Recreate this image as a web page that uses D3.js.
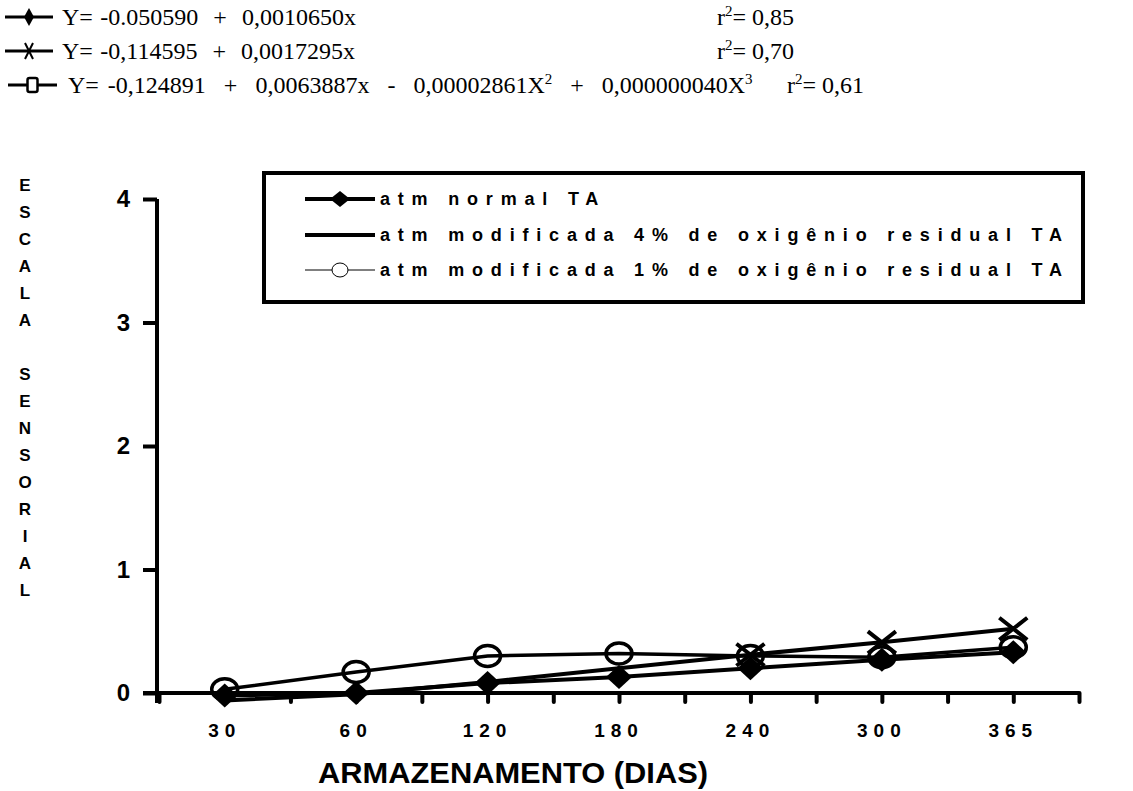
<!DOCTYPE html>
<html>
<head>
<meta charset="utf-8">
<script src="https://cdn.jsdelivr.net/npm/d3@7"></script>
<style>
  body { margin: 0; background: #fff; }
  svg { display: block; }
  text { white-space: pre; }
</style>
</head>
<body>
<div id="chart"></div>
<script>
// data
var days = ["30", "60", "120", "180", "240", "300", "365"];
var normalTA = [-0.02, 0.00, 0.08, 0.13, 0.20, 0.27, 0.33];
var mod4TA = [-0.06, -0.01, 0.09, 0.20, 0.31, 0.41, 0.52];
var mod1TA = [0.03, 0.17, 0.30, 0.32, 0.30, 0.29, 0.37];
var mod4Marked = ["240", "300", "365"];
var yTicks = [0, 1, 2, 3, 4];
var legendLabels = ["atm normal TA", "atm modificada 4% de oxigênio residual TA", "atm modificada 1% de oxigênio residual TA"];
var equations = ["Y= -0.050590  +  0,0010650x", "Y= -0,114595  +  0,0017295x", "Y= -0,124891  +  0,0063887x  -  0,00002861X"];
var r2 = ["0,85", "0,70", "0,61"];
var yTitle = "ESCALA SENSORIAL";
var xTitle = "ARMAZENAMENTO (DIAS)";

var sans = "Arial, Liberation Sans, sans-serif";
var svg = d3.select("#chart").append("svg").attr("width", 1133).attr("height", 791);

var x = d3.scaleLinear().domain([-0.5, days.length - 0.5]).range([159, 1079]);
var y = d3.scaleLinear().domain([0, 4]).range([693, 199]);

// ---- equations at the top
var eq = svg.append("g").attr("font-family", "Liberation Serif, Times New Roman, serif").attr("font-size", 24)
    .attr("fill", "#000");
var rowY = [17, 51, 85];
var r2X = [717, 717, 787];

function eqIcon(i, g) {
    var cy = rowY[i];
    var x0 = i == 2 ? 8 : 5, x1 = i == 2 ? 57 : 53, mx = (x0 + x1) / 2;
    g.append("line").attr("x1", x0).attr("x2", x1).attr("y1", cy).attr("y2", cy).attr("stroke", "#000").attr("stroke-width", 3);
    if (i == 0) {
        g.append("path").attr("d", "M" + mx + "," + (cy - 9) + "L" + (mx + 5) + "," + cy + "L" + mx + "," + (cy + 9) + "L" + (mx - 5) + "," + cy + "Z").attr("fill", "#000");
    } else if (i == 1) {
        g.append("path").attr("d", "M" + (mx - 4) + "," + (cy - 8) + "L" + (mx + 4) + "," + (cy + 8) + "M" + (mx + 4) + "," + (cy - 8) + "L" + (mx - 4) + "," + (cy + 8))
            .attr("stroke", "#000").attr("stroke-width", 2).attr("fill", "none");
    } else {
        g.append("rect").attr("x", mx - 5).attr("y", cy - 7).attr("width", 10).attr("height", 14).attr("rx", 2)
            .attr("fill", "#fff").attr("stroke", "#000").attr("stroke-width", 2.5);
    }
}

function sup(t, s, rest) {
    t.append("tspan").attr("font-size", 15).attr("dy", -9).text(s);
    t.append("tspan").attr("dy", 9).text(rest);
}

equations.forEach(function(s, i) {
    eqIcon(i, eq);
    var t = eq.append("text").attr("x", i == 2 ? 68 : 62).attr("y", rowY[i] + 8)
        .attr("word-spacing", i == 2 ? 3 : 1.5).text(s);
    if (i == 2) {
        sup(t, "2", "  +  0,000000040X");
        sup(t, "3", "");
    }
    var r = eq.append("text").attr("x", r2X[i]).attr("y", rowY[i] + 8).text("r");
    sup(r, "2", "= " + r2[i]);
});

// ---- axes
var yAxis = svg.append("g").attr("transform", "translate(157,0)")
    .call(d3.axisLeft(y).tickValues(yTicks).tickFormat(d3.format("d")).tickSize(14).tickPadding(13));
yAxis.select(".domain").remove();
yAxis.selectAll("line").attr("stroke", "#000").attr("stroke-width", 4);
yAxis.selectAll("text").attr("font-family", sans).attr("font-weight", "bold").attr("font-size", 24).attr("fill", "#000");

var xAxis = svg.append("g").attr("transform", "translate(0,693)")
    .call(d3.axisBottom(x).tickValues(d3.range(0, days.length + 0.5, 0.5).map(function(v) { return v - 0.5; })).tickFormat("").tickSize(9));
xAxis.select(".domain").remove();
xAxis.selectAll("line").attr("stroke", "#000").attr("stroke-width", 4).attr("stroke-linecap", "round");

svg.append("line").attr("x1", 157).attr("x2", 157).attr("y1", y(4)).attr("y2", 703).attr("stroke", "#000").attr("stroke-width", 4);
svg.append("line").attr("x1", 143).attr("x2", x(days.length - 0.5)).attr("y1", y(0)).attr("y2", y(0)).attr("stroke", "#000").attr("stroke-width", 4);

svg.append("g").selectAll("text").data(days).join("text")
    .attr("x", function(d, i) { return x(i); })
    .attr("y", 737)
    .attr("text-anchor", "middle")
    .attr("font-family", sans).attr("font-weight", "bold").attr("font-size", 19)
    .attr("letter-spacing", 6)
    .text(function(d) { return d; });

svg.append("text").attr("x", 318).attr("y", 783)
    .attr("font-family", sans).attr("font-weight", "bold").attr("font-size", 29)
    .attr("textLength", 390).attr("lengthAdjust", "spacingAndGlyphs")
    .text(xTitle);

svg.append("g").selectAll("text").data(yTitle.split("")).join("text")
    .attr("x", 25)
    .attr("y", function(d, i) { return 191 + i * 27; })
    .attr("text-anchor", "middle")
    .attr("font-family", sans).attr("font-weight", "bold").attr("font-size", 17)
    .text(function(d) { return d; });

// ---- series
var line = d3.line().x(function(d, i) { return x(i); }).y(function(d) { return y(d); });

svg.append("path").datum(mod1TA).attr("d", line).attr("fill", "none").attr("stroke", "#000").attr("stroke-width", 3.5);
svg.append("g").selectAll("ellipse").data(mod1TA).join("ellipse")
    .attr("cx", function(d, i) { return x(i); }).attr("cy", function(d) { return y(d); })
    .attr("rx", 13).attr("ry", 10.5).attr("fill", "none").attr("stroke", "#000").attr("stroke-width", 3.5);

svg.append("path").datum(mod4TA).attr("d", line).attr("fill", "none").attr("stroke", "#000").attr("stroke-width", 4);
svg.append("g").selectAll("path").data(mod4TA.map(function(v, i) { return [i, v]; }).filter(function(d) { return mod4Marked.indexOf(days[d[0]]) >= 0; }))
    .join("path")
    .attr("d", function(d) {
        var cx = x(d[0]), cy = y(d[1]);
        return "M" + (cx - 14) + "," + (cy - 11) + "L" + (cx + 14) + "," + (cy + 11) + "M" + (cx + 14) + "," + (cy - 11) + "L" + (cx - 14) + "," + (cy + 11);
    })
    .attr("stroke", "#000").attr("stroke-width", 4).attr("fill", "none");

svg.append("path").datum(normalTA).attr("d", line).attr("fill", "none").attr("stroke", "#000").attr("stroke-width", 4);
svg.append("g").selectAll("path").data(normalTA).join("path")
    .attr("d", function(d, i) {
        var cx = x(i), cy = y(d);
        return "M" + cx + "," + (cy - 12) + "L" + (cx + 13) + "," + cy + "L" + cx + "," + (cy + 12) + "L" + (cx - 13) + "," + cy + "Z";
    })
    .attr("fill", "#000");

// ---- legend
var lg = svg.append("g");
lg.append("rect").attr("x", 264).attr("y", 173).attr("width", 819).attr("height", 129)
    .attr("fill", "#fff").attr("stroke", "#000").attr("stroke-width", 4);
var legY = [199, 235, 270];
var legTexts = [];
legendLabels.forEach(function(s, i) {
    var cy = legY[i];
    lg.append("line").attr("x1", 305).attr("x2", 375).attr("y1", cy).attr("y2", cy)
        .attr("stroke", "#000").attr("stroke-width", i == 2 ? 1 : 4);
    if (i == 0) {
        lg.append("path").attr("d", "M340," + (cy - 8) + "L350," + cy + "L340," + (cy + 8) + "L330," + cy + "Z").attr("fill", "#000");
    } else if (i == 2) {
        lg.append("ellipse").attr("cx", 340).attr("cy", cy).attr("rx", 8).attr("ry", 7).attr("fill", "#fff").attr("stroke", "#000").attr("stroke-width", 1);
    }
    legTexts.push(lg.append("text").attr("x", 380).attr("y", cy + 6)
        .attr("font-family", sans).attr("font-weight", "bold").attr("font-size", 18)
        .text(s));
});
// same letter spacing on every entry, sized so the longest line fills the box
var w = legTexts[1].node().getComputedTextLength();
var ls = (682 - w) / (legendLabels[1].length - 1);
legTexts.forEach(function(t) { t.attr("letter-spacing", ls); });
</script>
</body>
</html>
